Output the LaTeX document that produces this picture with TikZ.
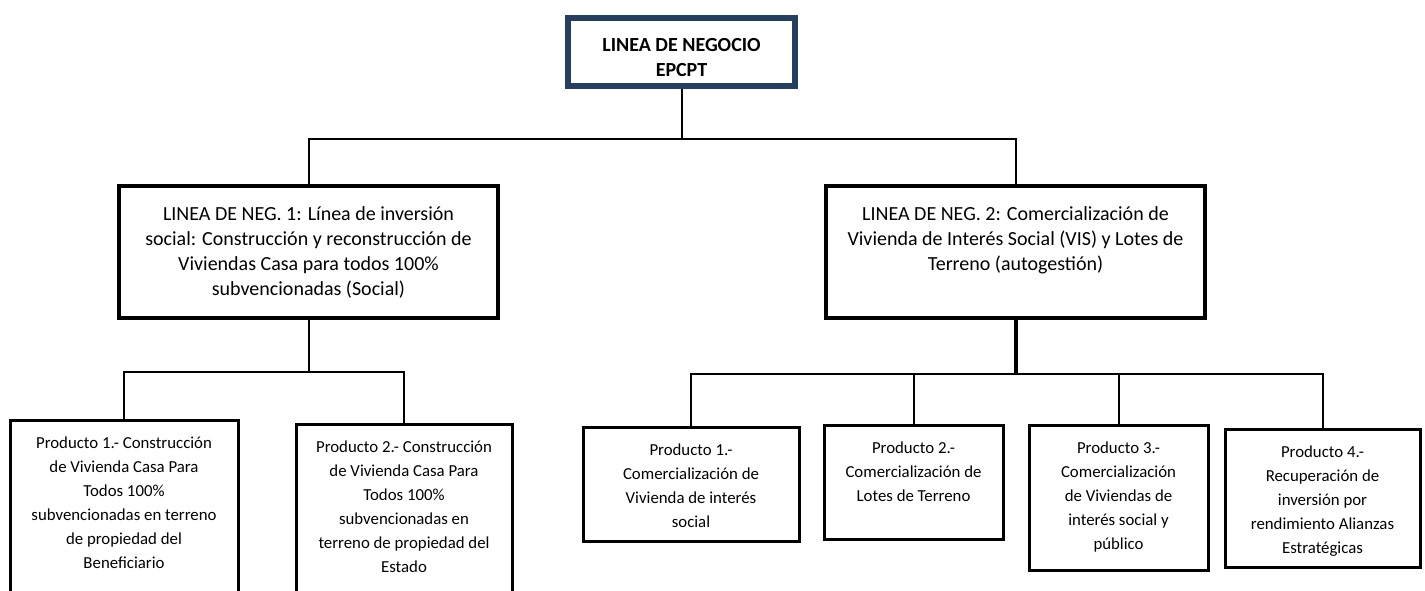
\documentclass[tikz,border=0pt]{standalone}
\usepackage{fontspec}
\setmainfont{Carlito}
\definecolor{navy}{HTML}{243F60}

\begin{document}
\begin{tikzpicture}[x=0.5pt,y=-0.5pt,
    every node/.style={draw,shape=rectangle,inner sep=0pt,anchor=north west},
    linea/.style={line width=2pt,font=\fontsize{10}{12.5}\selectfont},
    prod/.style={line width=1.5pt,font=\fontsize{8.4}{12}\selectfont},
    conn/.style={line width=1pt}]
  \useasboundingbox (0,0) rectangle (1425,590);
  \clip (0,0) rectangle (1425,590);
  \node[line width=3pt,draw=navy,font=\bfseries\fontsize{10}{12.5}\selectfont] (neg) at (565,15)
    {\parbox[c][34pt][t]{113.5pt}{\centering\rule{0pt}{16.5pt}LINEA DE NEGOCIO\\EPCPT}};
  \node[linea] (ln1) at (117,184)
    {\parbox[c][66pt][t]{189.5pt}{\centering\rule{0pt}{17pt}LINEA DE NEG. 1: Línea de inversión\\social: Construcción y reconstrucción de\\Viviendas Casa para todos 100\%\\subvencionadas (Social)}};
  \node[linea] (ln2) at (824,184)
    {\parbox[c][66pt][t]{189.5pt}{\centering\rule{0pt}{17pt}LINEA DE NEG. 2: Comercialización de\\Vivienda de Interés Social (VIS) y Lotes de\\Terreno (autogestión)}};
  \node[prod] (lp1) at (8.5,418.5)
    {\parbox[c][91pt][t]{114pt}{\centering\rule{0pt}{14pt}Producto 1.- Construcción\\de Vivienda Casa Para\\Todos 100\%\\subvencionadas en terreno\\de propiedad del\\Beneficiario}};
  \node[prod] (lp2) at (294.5,422.5)
    {\parbox[c][89pt][t]{108pt}{\centering\rule{0pt}{14pt}Producto 2.- Construcción\\de Vivienda Casa Para\\Todos 100\%\\subvencionadas en\\terreno de propiedad del\\Estado}};
  \node[prod] (rp1) at (581.5,425.5)
    {\parbox[c][57pt][t]{108pt}{\centering\rule{0pt}{14pt}Producto 1.-\\Comercialización de\\Vivienda de interés\\social}};
  \node[prod] (rp2) at (822.5,423.5)
    {\parbox[c][57pt][t]{89.5pt}{\centering\rule{0pt}{14pt}Producto 2.-\\Comercialización de\\Lotes de Terreno}};
  \node[prod] (rp3) at (1027.5,423.5)
    {\parbox[c][72.5pt][t]{89.5pt}{\centering\rule{0pt}{14pt}Producto 3.-\\Comercialización\\de Viviendas de\\interés social y\\público}};
  \node[prod] (rp4) at (1223.5,427.5)
    {\parbox[c][69pt][t]{97.5pt}{\centering\rule{0pt}{14pt}Producto 4.-\\Recuperación de\\inversión por\\rendimiento Alianzas\\Estratégicas}};
  \draw[conn] (neg.south) -- ++(0,50) -| (ln1.north);
  \draw[conn] (neg.south) -- ++(0,50) -| (ln2.north);
  \draw[conn] (ln1.south) -- ++(0,52) -| (lp1.north);
  \draw[conn] (ln1.south) -- ++(0,52) -| (lp2.north);
  \draw[line width=2pt] (ln2.south) -- ++(0,54) coordinate (r);
  \foreach \p in {rp1,rp2,rp3,rp4}
    \draw[conn] (r) -| (\p.north);
\end{tikzpicture}
\end{document}
